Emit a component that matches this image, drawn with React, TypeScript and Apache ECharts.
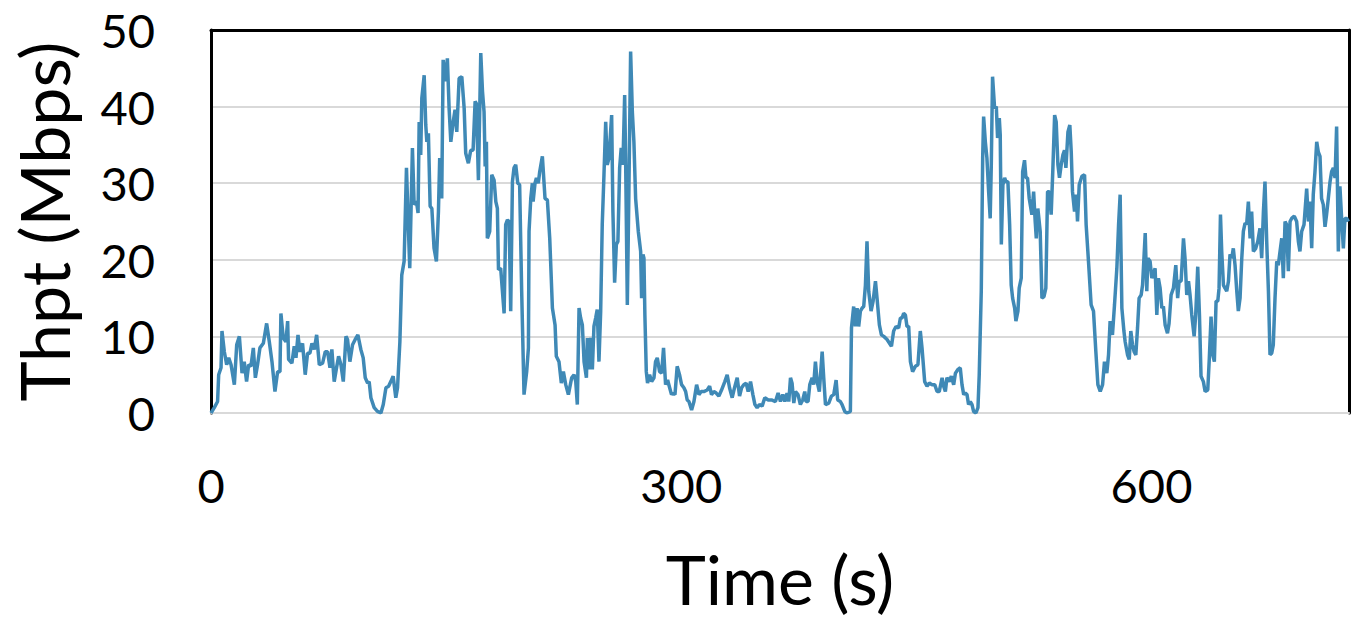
import React, { useEffect, useRef } from "react";
import * as echarts from "echarts";

// Throughput trace, [time (s), throughput (Mbps)]
const seg1: [number, number][] = [
  [0,0],[2.1,0.7],[4.2,1.5],[4.9,5.0],[6.4,5.9],[7.0,10.7],[8.5,8.0],[10.0,6.3],[11.3,7.2],[12.8,6.3],[14.9,3.7],[16.4,8.9],[18.1,10.0],[19.8,5.2],[21.2,6.7],[22.7,4.1],[24.0,6.3],[25.5,6.1],[27.0,8.5],[28.3,4.6],[29.7,6.3],[31.2,8.5],[33.4,9.1],[35.5,11.7],[37.2,9.3],[38.9,6.7],[40.8,2.8],[42.5,5.4],[44.0,5.4],[44.6,13.0],[46.1,9.8],[47.8,9.3],[48.9,12.0],[49.5,7.0],[51.6,6.5],[53.1,8.7],[54.2,7.2],[55.5,10.2],[56.7,8.0],[58.4,9.1],[60.1,5.0],[61.6,7.8],[63.1,7.8],[64.4,9.1],[65.9,8.3],[67.4,10.2],[69.1,6.3],[71.2,6.5],[72.9,8.0],[74.4,8.0],[75.9,5.9],[77.1,8.3],[78.6,4.1],[80.1,5.9],[81.4,7.4],[82.9,6.3],[84.4,4.1],[86.1,10.0],[87.1,9.6],[88.6,6.7],[90.3,8.9],[92.0,9.6],[93.7,10.2],[95.6,8.3],[97.1,7.2],[98.4,4.6],[99.9,3.9],[100.9,4.1],[102.0,2.0],[104.1,0.7],[106.2,0.2],[108.4,0],[109.9,1.1],[111.6,3.3],[113.3,3.5],[114.7,4.1],[116.2,4.8],[117.9,2.0],[119.0,3.3]
];
const seg2: [number, number][] = [
  [120.5,9.3],[121.7,18.0],[123.2,19.8],[124.7,32.0],[126.0,23.7],[126.8,18.9],[128.5,34.6],[129.6,27.2],[131.1,27.6],[132.1,26.1],[132.8,38.0],[133.8,33.7],[134.5,41.1],[136.0,44.1],[137.0,37.6],[137.7,35.4],[138.7,36.5],[139.8,27.0],[140.9,26.7],[142.3,21.5],[143.8,19.8],[145.1,26.3],[145.9,33.3],[147.2,28.0],[148.1,46.1],[149.4,43.3],[150.8,46.3],[151.9,39.8],[153.0,35.4],[154.5,38.0],[155.7,39.6],[156.8,36.7],[158.3,43.7],[160.0,43.9],[161.5,39.8],[162.5,33.9],[164.2,32.6],[165.7,34.3],[167.2,34.3],[168.5,40.7],[169.3,40.4],[170.6,30.4],[171.5,40.2],[172.1,47.0],[173.2,42.0],[174.2,39.3],[174.9,32.2],[175.7,35.4],[176.3,22.8],[177.8,23.7],[179.1,31.1],[180.6,30.4],[181.7,27.6],[182.7,26.7],[183.4,18.7],[184.8,18.9],[187.0,13.0],[188.0,24.6],[189.1,25.2],[190.2,25.0],[191.2,13.3],[192.3,30.2],[193.3,32.0],[194.4,32.4],[195.7,30.0],[196.9,29.8],[198.2,15.9],[199.7,2.4],[201.4,5.4],[202.5,8.5],[202.9,23.7],[204.0,28.0],[205.0,30.0],[205.5,27.6],[206.7,30.0],[207.6,30.7],[208.8,30.0],[209.7,31.5],[211.4,33.5],[213.1,28.0],[214.6,27.8],[216.1,22.8],[217.8,13.7],[219.5,11.5],[220.3,7.4],[222.0,6.7],[223.5,3.9],[224.8,5.4],[226.3,3.7],[228.0,2.4],[230.1,4.6],[231.6,5.0],[232.7,4.1],[233.7,1.1],[234.8,13.7],[235.8,12.4],[236.9,11.5],[238.0,6.7],[239.5,4.6]
];
const seg3: [number, number][] = [
  [240.1,9.8],[241.1,5.7],[242.2,9.8],[243.3,5.7],[244.3,11.3],[245.4,12.4],[246.4,13.5],[247.5,6.7],[248.6,13.3],[249.6,24.6],[250.7,31.1],[251.8,38.0],[252.8,32.4],[253.9,33.3],[255.6,38.9],[256.4,26.3],[257.5,17.0],[258.6,22.0],[259.6,22.4],[260.7,32.0],[261.7,34.6],[262.8,32.4],[263.9,41.5],[264.5,33.3],[265.6,14.1],[266.6,28.9],[267.7,47.2],[268.8,39.3],[269.8,35.4],[270.9,28.0],[272.6,23.7],[274.1,21.1],[274.7,15.0],[275.6,20.7],[276.2,20.2],[276.8,12.8],[277.7,5.4],[278.5,3.9],[279.8,5.0],[281.1,4.1],[282.6,4.6],[283.6,6.7],[284.7,7.2],[286.2,5.4],[287.5,5.2],[288.7,8.5],[290.0,3.7],[291.3,4.3],[292.6,3.3],[293.8,2.4],[294.7,2.6],[296.0,2.4],[297.4,6.1],[298.9,5.0],[300.2,3.7],[301.7,3.3],[302.8,2.8],[303.8,1.7],[304.9,1.5],[306.6,0.4],[308.1,1.5],[309.8,3.7],[311.3,2.4],[312.7,2.8],[314.4,2.8],[316.6,3.0],[318.1,3.5],[319.3,2.4],[320.8,2.8],[322.3,2.6],[324.0,2.2],[325.7,3.0],[327.8,4.1],[329.3,5.0],[330.8,3.3],[332.5,2.0],[334.0,3.3],[335.7,4.6],[337.2,2.2],[338.5,3.3],[339.9,3.7],[341.4,3.9],[342.7,2.8],[344.2,4.1],[345.7,2.4],[347.0,1.1],[348.4,0.7],[349.9,1.1],[351.6,0.9],[353.3,2.0],[355.5,1.7],[357.6,1.7]
];
const seg4: [number, number][] = [
  [360.1,1.5],[361.8,2.6],[363.3,1.5],[364.8,2.4],[366.1,1.5],[367.5,2.6],[368.6,1.5],[369.7,4.6],[370.7,3.9],[371.8,1.3],[372.9,2.8],[374.5,2.4],[376.0,1.1],[377.5,1.7],[378.8,2.8],[379.6,1.5],[380.9,1.5],[382.0,3.7],[383.5,4.6],[384.5,3.7],[385.6,6.7],[386.7,4.1],[388.1,2.8],[389.9,8.0],[390.9,4.6],[392.0,1.1],[394.1,1.3],[395.8,2.2],[397.3,2.4],[398.8,4.3],[399.8,1.7],[401.5,1.5],[402.6,1.1],[404.3,0.2],[405.8,0],[407.9,0.2],[408.6,11.1],[410.0,13.9],[411.1,11.3],[412.2,13.7],[413.2,11.3],[414.3,13.3],[415.4,13.7],[416.4,13.9],[417.5,16.7],[418.5,22.4],[419.6,15.9],[421.1,13.3],[422.4,14.6],[423.9,17.2],[424.9,15.0],[426.4,11.5],[427.7,10.2],[429.2,10.0],[431.3,9.6],[434.1,8.7],[435.5,10.7],[437.0,11.3],[438.7,11.1],[439.8,12.4],[440.9,12.4],[441.9,13.0],[443.0,12.8],[444.0,11.3],[445.1,11.3],[446.2,6.7],[447.6,5.4],[449.4,6.1],[451.0,6.3],[452.5,10.7],[453.6,8.5],[455.3,4.1],[456.8,3.5],[458.3,3.9],[460.0,3.7],[461.7,3.7],[463.2,2.8],[464.6,2.8],[466.4,4.6],[467.4,3.5],[468.5,2.8],[469.5,4.6],[471.0,4.1],[472.3,4.8],[473.8,3.7],[474.9,5.2],[476.6,5.7],[478.0,5.9],[479.1,3.7],[480.2,2.4]
];
const seg5: [number, number][] = [
  [481.2,2.6],[482.3,2.4],[483.3,1.1],[484.4,1.5],[485.5,1.1],[486.5,0.2],[488.0,0],[489.3,0.7],[490.1,5.0],[491.4,15.9],[492.3,33.3],[492.9,38.7],[494.0,35.4],[495.0,33.3],[496.1,28.9],[497.1,25.4],[497.8,32.4],[498.6,43.9],[499.9,39.8],[501.0,40.0],[501.8,35.9],[502.9,38.5],[503.5,36.3],[504.2,22.0],[505.2,29.8],[506.3,30.7],[507.1,30.2],[508.4,30.2],[509.5,24.6],[510.5,16.7],[511.4,15.0],[512.7,13.7],[513.5,12.0],[514.8,13.3],[515.6,16.3],[516.9,17.6],[517.8,31.5],[519.0,33.0],[519.9,30.7],[520.9,30.7],[522.0,28.0],[523.7,25.9],[524.8,28.9],[525.8,25.0],[526.5,22.8],[527.5,26.7],[529.0,23.7],[530.1,15.0],[531.4,15.2],[532.6,16.3],[533.7,28.9],[534.8,28.9],[536.0,25.9],[537.1,32.0],[538.2,38.9],[539.2,38.0],[540.3,32.4],[541.3,30.7],[542.4,32.4],[543.5,33.7],[544.5,34.3],[545.4,32.0],[546.7,36.7],[547.9,37.6],[548.8,34.1],[549.6,28.9],[550.9,26.3],[552.0,28.5],[552.8,25.0],[553.9,29.8],[555.6,30.9],[557.3,31.1],[558.3,24.6],[559.8,19.8],[561.5,14.1],[563.0,13.3],[564.5,8.0],[565.8,3.7],[567.3,2.8],[568.8,3.7],[570.0,6.7],[571.5,5.2],[572.6,7.6],[573.6,12.0],[575.1,10.2],[576.4,14.1],[577.9,18.9],[579.0,24.6],[580.0,28.5],[581.1,13.7],[582.4,10.7],[583.2,9.3],[584.7,7.6],[585.8,7.0],[586.8,10.7],[587.9,8.9],[588.9,8.0],[590.0,7.6],[591.1,11.1],[592.1,15.0],[593.4,15.4],[594.3,16.7],[596.0,23.5],[597.0,15.9],[597.7,20.2],[599.1,19.8],[600.2,17.6]
];
const seg6: [number, number][] = [
  [602.3,18.9],[603.4,12.8],[604.4,17.6],[605.5,16.3],[606.6,13.7],[607.6,13.9],[608.7,11.5],[610.2,10.4],[611.2,11.7],[612.5,15.4],[614.0,16.3],[615.5,19.3],[616.7,15.0],[617.6,17.2],[618.9,17.2],[620.4,22.8],[621.4,20.2],[622.5,15.4],[623.6,17.2],[624.6,15.4],[625.7,12.8],[627.2,10.0],[628.2,12.8],[629.5,19.1],[630.6,12.8],[631.6,4.8],[633.1,4.1],[634.2,2.8],[635.9,3.0],[636.9,7.2],[638.0,12.6],[639.1,7.6],[640.1,6.7],[641.2,14.6],[642.3,14.6],[643.1,16.3],[644.0,25.9],[644.8,21.1],[645.9,16.7],[646.9,16.3],[648.0,15.9],[649.1,17.2],[650.1,20.7],[651.2,20.2],[652.2,21.5],[653.3,19.3],[654.4,15.9],[655.4,13.3],[656.5,15.0],[657.6,20.2],[658.6,23.7],[659.7,24.8],[660.7,24.6],[661.8,27.6],[662.9,22.8],[663.9,26.3],[665.0,21.1],[666.5,21.5],[667.8,22.4],[669.2,24.1],[670.3,20.2],[671.4,26.3],[672.4,30.2],[673.5,22.4],[674.6,15.9],[675.6,7.6],[676.7,7.8],[677.7,8.9],[678.8,15.0],[679.9,19.8],[680.9,19.3],[682.0,21.1],[683.1,22.8],[684.1,17.6],[685.2,25.0],[686.2,24.6],[687.3,18.5],[688.4,25.0],[689.4,25.4],[691.1,25.7],[692.6,25.0],[693.7,22.4],[694.7,21.1],[695.8,23.7],[697.3,24.6],[699.0,29.3],[700.1,25.0],[701.1,27.6],[702.2,21.5],[703.2,28.5],[704.3,31.5],[705.4,35.4],[706.4,34.1],[707.5,33.5],[708.5,28.0],[709.6,27.2],[710.7,24.3],[711.7,25.9],[712.8,28.0],[713.9,30.2],[714.9,31.5],[716.0,32.0],[717.1,30.7],[718.1,37.4],[719.2,21.1],[720.2,29.6],[721.3,25.4],[722.4,21.5],[723.4,25.4],[724.5,25.4],[725.6,25.0]
];

const xTickValues = [0, 300, 600];
const yTickValues = [0, 10, 20, 30, 40, 50];
const xTitle = "Time (s)";
const yTitle = "Thpt (Mbps)";

const FONT = "Lato";

export default function App() {
  const ref = useRef<HTMLDivElement>(null);
  useEffect(() => {
    if (!ref.current) return;
    const chart = echarts.init(ref.current, null, { renderer: "svg" });
    const data = [...seg1, ...seg2, ...seg3, ...seg4, ...seg5, ...seg6];
    const xMax = 726;
    chart.setOption({
      animation: false,
      backgroundColor: "#ffffff",
      grid: { left: 211, right: 15, top: 30, bottom: 210, containLabel: false },
      xAxis: [
        {
          type: "value",
          position: "bottom",
          min: xTickValues[0],
          max: xMax,
          interval: xTickValues[1] - xTickValues[0],
          name: xTitle,
          nameLocation: "middle",
          nameGap: 131,
          nameTextStyle: { fontFamily: FONT, fontSize: 68, color: "#000" },
          axisLine: { show: true, onZero: false, lineStyle: { color: "#d9d9d9", width: 2 } },
          axisTick: { show: false },
          splitLine: { show: false },
          axisLabel: {
            fontFamily: FONT,
            fontSize: 47,
            color: "#000",
            margin: 48,
            showMaxLabel: false,
          },
          z: 1,
        },
        {
          type: "value",
          position: "top",
          min: xTickValues[0],
          max: xMax,
          axisLine: { show: true, onZero: false, lineStyle: { color: "#000", width: 3 } },
          axisTick: { show: false },
          axisLabel: { show: false },
          splitLine: { show: false },
        },
      ],
      yAxis: [
        {
          type: "value",
          position: "left",
          min: yTickValues[0],
          max: yTickValues[yTickValues.length - 1],
          interval: yTickValues[1] - yTickValues[0],
          name: yTitle,
          nameLocation: "middle",
          nameGap: 134,
          nameTextStyle: { fontFamily: FONT, fontSize: 68, color: "#000" },
          axisLine: { show: true, onZero: false, lineStyle: { color: "#000", width: 3 } },
          axisTick: { show: false },
          splitLine: { show: true, lineStyle: { color: "#d9d9d9", width: 2 } },
          axisLabel: { fontFamily: FONT, fontSize: 47, color: "#000", margin: 56 },
        },
        {
          type: "value",
          position: "right",
          min: yTickValues[0],
          max: yTickValues[yTickValues.length - 1],
          axisLine: { show: true, onZero: false, lineStyle: { color: "#000", width: 3 } },
          axisTick: { show: false },
          axisLabel: { show: false },
          splitLine: { show: false },
        },
      ],
      series: [
        {
          type: "line",
          xAxisIndex: 0,
          yAxisIndex: 0,
          data,
          showSymbol: false,
          symbol: "none",
          lineStyle: { color: "#3f89b6", width: 3.5 },
          z: 5,
        },
      ],
    });
    return () => chart.dispose();
  }, []);
  return (
    <div
      ref={ref}
      style={{ position: "fixed", left: 0, top: 0, width: 1364, height: 623, background: "#fff" }}
    />
  );
}
